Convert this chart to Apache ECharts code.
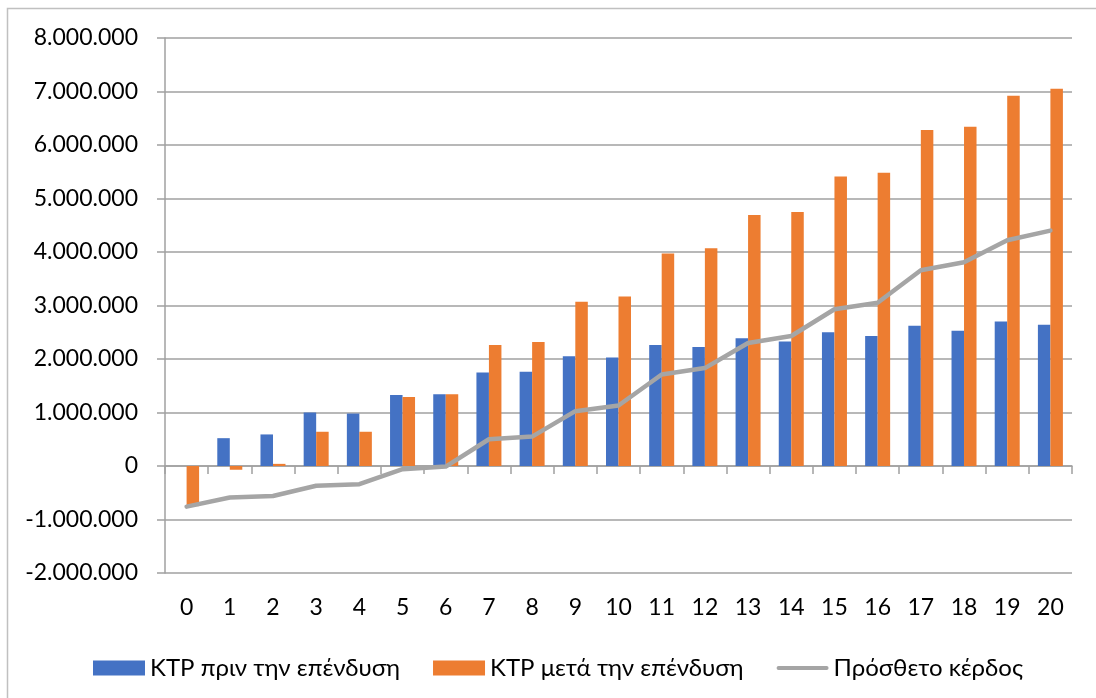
<!DOCTYPE html>
<html>
<head>
<meta charset="utf-8">
<script src="https://cdn.jsdelivr.net/npm/echarts@6/dist/echarts.min.js"></script>
<style>
html,body{margin:0;padding:0;background:#fff;}
#chart{width:1096px;height:698px;}
</style>
</head>
<body>
<div id="chart"></div>
<script>
const categories = ['0','1','2','3','4','5','6','7','8','9','10','11','12','13','14','15','16','17','18','19','20'];
const seriesNames = ['KTP πριν την επένδυση', 'KTP μετά την επένδυση', 'Πρόσθετο κέρδος'];
const ktpBefore = [0, 520000, 590000, 1000000, 980000, 1325000, 1340000, 1750000, 1760000, 2050000, 2030000, 2260000, 2225000, 2390000, 2325000, 2500000, 2430000, 2620000, 2530000, 2700000, 2640000];
const ktpAfter = [-750000, -70000, 40000, 640000, 640000, 1290000, 1340000, 2260000, 2320000, 3070000, 3170000, 3970000, 4070000, 4690000, 4750000, 5410000, 5480000, 6280000, 6340000, 6920000, 7050000];
const extraProfit = [-760000, -590000, -560000, -370000, -340000, -60000, -10000, 500000, 550000, 1025000, 1130000, 1710000, 1830000, 2300000, 2430000, 2930000, 3050000, 3660000, 3810000, 4220000, 4400000];
const yMin = -2000000, yMax = 8000000, yStep = 1000000;

function fmt(v){
  const s = Math.abs(v).toString().replace(/\B(?=(\d{3})+(?!\d))/g, '.');
  return (v < 0 ? '-' : '') + s;
}

const FONT = 'Lato';
const chart = echarts.init(document.getElementById('chart'), null, {renderer:'canvas'});
chart.setOption({
  backgroundColor:'#fff',
  animation:false,
  textStyle:{fontFamily:FONT},
  graphic:[{type:'rect', shape:{x:7.5, y:8.5, width:1100, height:700}, style:{fill:'none', stroke:'#c0c0c0', lineWidth:1.5}, silent:true, z:-10}],
  grid:{left:165, right:24, top:38, bottom:125, containLabel:false},
  legend:{
    left:88, top:651, itemWidth:52, itemHeight:15, itemGap:33,
    textStyle:{fontFamily:FONT, fontSize:24, color:'#000'},
    data:[
      {name:seriesNames[0], icon:'rect'},
      {name:seriesNames[1], icon:'rect'},
      {name:seriesNames[2], icon:'path://M2,0 L50,0 A2,2 0 0 1 50,4 L2,4 A2,2 0 0 1 2,0 Z', itemStyle:{color:'#A5A5A5'}}
    ]
  },
  xAxis:[
    {type:'category', data:categories, position:'bottom',
     axisLine:{onZero:true, lineStyle:{color:'#a0a0a0', width:1.5}},
     axisTick:{show:true, length:8, inside:false, lineStyle:{color:'#a0a0a0', width:1.5}},
     axisLabel:{show:false}, splitLine:{show:false}},
    {type:'category', data:categories, position:'bottom', gridIndex:0,
     axisLine:{show:false, onZero:false}, axisTick:{show:false},
     axisLabel:{show:true, margin:23, fontFamily:FONT, fontSize:23, color:'#000'}, splitLine:{show:false}}
  ],
  yAxis:{
    type:'value', min:yMin, max:yMax, interval:yStep,
    axisLine:{show:true, lineStyle:{color:'#a0a0a0', width:1.5}},
    axisTick:{show:true, length:8, lineStyle:{color:'#a0a0a0', width:1.5}},
    axisLabel:{margin:27, fontFamily:FONT, fontSize:23, color:'#000', formatter:fmt},
    splitLine:{show:true, lineStyle:{color:'#a0a0a0', width:1.5}}
  },
  series:[
    {name:seriesNames[0], type:'bar', data:ktpBefore, xAxisIndex:0, barWidth:12.5, barGap:'0%', itemStyle:{color:'#4472C4'}},
    {name:seriesNames[1], type:'bar', data:ktpAfter, xAxisIndex:0, barWidth:12.5, barGap:'0%', itemStyle:{color:'#ED7D31'}},
    {name:seriesNames[2], type:'line', data:extraProfit, xAxisIndex:0, symbol:'none', z:5,
     lineStyle:{color:'#A5A5A5', width:4.5, cap:'round', join:'round'}, itemStyle:{color:'#A5A5A5'}}
  ]
});
</script>
</body>
</html>
